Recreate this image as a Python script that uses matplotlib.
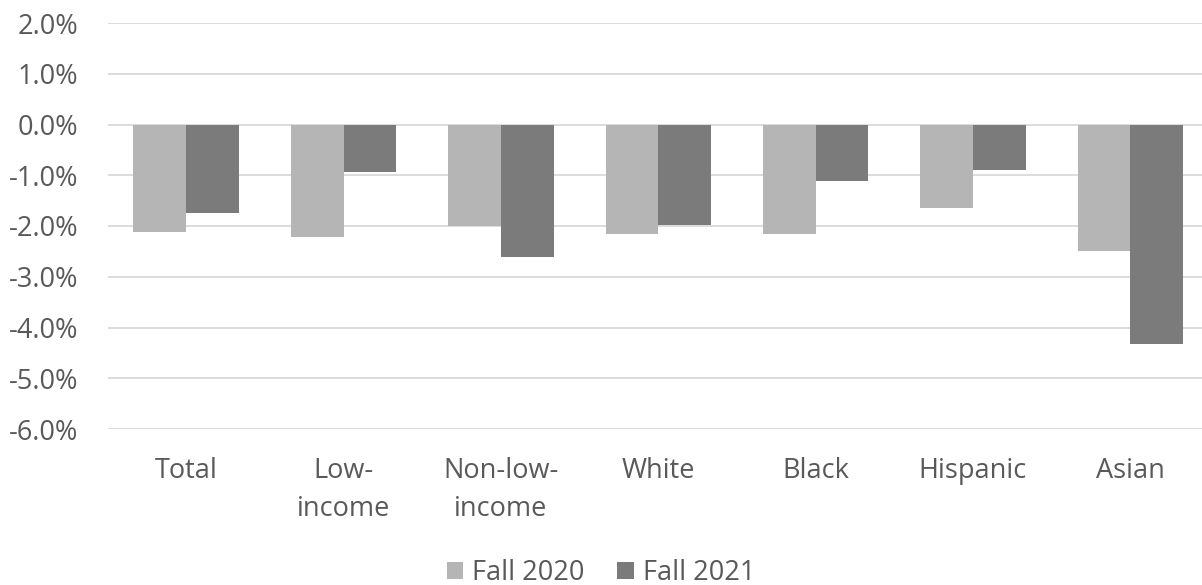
import numpy as np
import matplotlib.pyplot as plt
from matplotlib.ticker import FuncFormatter

plt.rcParams['font.family'] = ['Open Sans', 'DejaVu Sans']

categories = ['Total', 'Low-\nincome', 'Non-low-\nincome', 'White', 'Black', 'Hispanic', 'Asian']
fall_2020 = [-2.11, -2.22, -2.00, -2.15, -2.15, -1.65, -2.50]
fall_2021 = [-1.75, -0.94, -2.62, -1.99, -1.12, -0.89, -4.33]

text_color = '#595959'
fig = plt.figure(figsize=(12.02, 5.85), dpi=100)
ax = fig.add_axes([107.5 / 1202, 156 / 585, 1101.5 / 1202, 406 / 585])

x = np.arange(len(categories))
w = 0.335
ax.bar(x - w / 2, fall_2020, w, color='#b5b5b5', label='Fall 2020', zorder=2)
ax.bar(x + w / 2, fall_2021, w, color='#7b7b7b', label='Fall 2021', zorder=2)

ax.set_ylim(-6, 2)
ax.set_xlim(-0.5, len(categories) - 0.5)
ax.set_yticks(np.arange(-6, 2.1, 1))
ax.yaxis.set_major_formatter(FuncFormatter(lambda v, p: f'{v:.1f}%'))
ax.grid(axis='y', color='#d9d9d9', linewidth=1.3, zorder=0)
ax.set_xticks(x)
ax.set_xticklabels(categories, fontsize=19.5, color=text_color, linespacing=1.5)
ax.tick_params(axis='y', labelsize=19.5, labelcolor=text_color, length=0, pad=21)
ax.tick_params(axis='x', length=0, pad=20)
for s in ax.spines.values():
    s.set_visible(False)

fig.legend(loc='lower center', bbox_to_anchor=(0.5, -0.045), ncol=2, frameon=False,
           fontsize=19.5, labelcolor=text_color, handlelength=0.6, handleheight=0.6,
           handletextpad=0.35, columnspacing=1.2)

fig.savefig('out.png', dpi=100)
